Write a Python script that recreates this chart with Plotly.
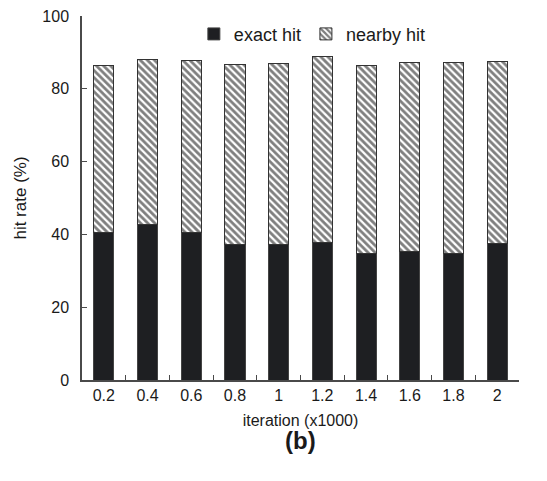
import plotly.graph_objects as go

iterations = ["0.2", "0.4", "0.6", "0.8", "1", "1.2", "1.4", "1.6", "1.8", "2"]
exact_hit = [40.5, 42.7, 40.5, 37.2, 37.2, 37.8, 34.8, 35.2, 34.8, 37.4]
total_hit = [86.3, 88.1, 87.7, 86.7, 87.0, 89.0, 86.3, 87.3, 87.2, 87.6]
nearby_hit = [round(t - e, 1) for t, e in zip(total_hit, exact_hit)]

font_family = "Liberation Sans, Arial, sans-serif"
axis_color = "#4a4a4a"

fig = go.Figure()
fig.add_trace(go.Bar(
    x=iterations, y=exact_hit, name="exact hit",
    marker=dict(color="#1e1f22", line=dict(color="#444", width=1)),
))
fig.add_trace(go.Bar(
    x=iterations, y=nearby_hit, name="nearby hit",
    marker=dict(color="white", line=dict(color="#333", width=1),
                pattern=dict(shape="\\", fgcolor="#000000", bgcolor="white",
                             size=5, solidity=0.55)),
))

fig.update_layout(
    barmode="stack",
    bargap=0.54,
    width=539, height=473,
    margin=dict(l=74, r=28, t=8, b=101, autoexpand=False),
    plot_bgcolor="white", paper_bgcolor="white",
    font=dict(family=font_family, size=16, color="#1a1a1a"),
    showlegend=True,
    legend=dict(orientation="h", x=0.256, y=0.95, xanchor="left", yanchor="middle",
                bgcolor="rgba(0,0,0,0)", font=dict(size=18), itemwidth=30,
                traceorder="normal"),
    xaxis=dict(
        showline=True, linecolor=axis_color, linewidth=1.5,
        ticks="inside", ticklen=5, tickcolor=axis_color, tickson="boundaries",
        showgrid=False, tickfont=dict(size=16),
        title=dict(text="iteration (x1000)", font=dict(size=16), standoff=12),
    ),
    yaxis=dict(
        range=[0, 100], tickvals=[0, 20, 40, 60, 80, 100],
        showline=True, linecolor=axis_color, linewidth=1.5,
        ticks="inside", ticklen=5, tickcolor=axis_color, ticklabelstandoff=8,
        ticklabeloverflow="allow",
        showgrid=False, zeroline=False, tickfont=dict(size=16),
        title=dict(text="hit rate (%)", font=dict(size=17), standoff=11),
    ),
    annotations=[dict(text="<b>(b)</b>", x=0.5, xref="paper", y=-0.165, yref="paper",
                      yanchor="middle", showarrow=False, font=dict(size=24))],
)

fig.write_html("out.html")
